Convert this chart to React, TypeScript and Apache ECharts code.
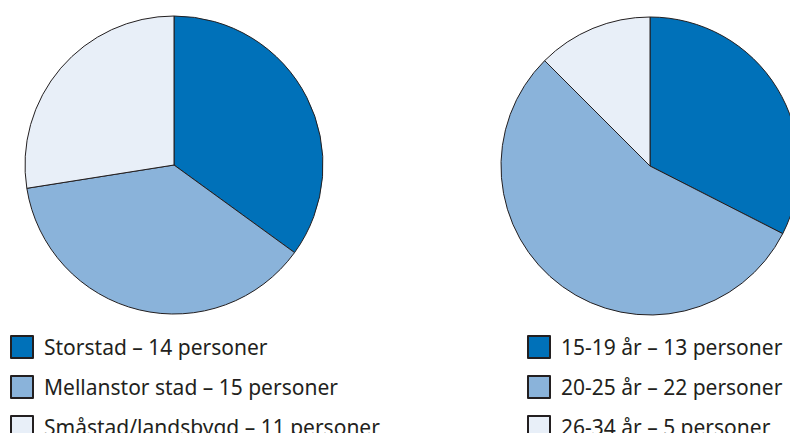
import React, { useEffect, useRef } from "react";
import * as echarts from "echarts";

const regionNames = ["Storstad", "Mellanstor stad", "Småstad/landsbygd"];
const regionValues = [14, 15, 11];
const ageNames = ["15-19 år", "20-25 år", "26-34 år"];
const ageValues = [13, 22, 5];
const sliceColors = ["#0071B9", "#8AB3DA", "#E8EFF8"];
const unitLabel = "personer";

export default function App() {
  const ref = useRef<HTMLDivElement>(null);
  useEffect(() => {
    if (!ref.current) return;
    const chart = echarts.init(ref.current, null, { renderer: "svg" });
    const lookup: Record<string, number> = {};
    regionNames.forEach((n, i) => (lookup[n] = regionValues[i]));
    ageNames.forEach((n, i) => (lookup[n] = ageValues[i]));
    const mk = (names: string[], values: number[]) =>
      names.map((n, i) => ({ name: n, value: values[i], itemStyle: { color: sliceColors[i] } }));
    const pieCommon = {
      type: "pie",
      radius: 149,
      startAngle: 90,
      clockwise: true,
      label: { show: false },
      labelLine: { show: false },
      emphasis: { disabled: true },
      itemStyle: { borderColor: "#231F20", borderWidth: 1 },
    };
    const legendCommon = {
      orient: "vertical",
      icon: "rect",
      itemWidth: 22,
      itemHeight: 22,
      itemGap: 16,
      padding: 0,
      selectedMode: false,
      formatter: (name: string) => `${name} – ${lookup[name]} ${unitLabel}`,
      textStyle: {
        fontFamily: "Noto Sans",
        fontSize: 21,
        lineHeight: 22,
        color: "#231F20",
        padding: [0, 0, 0, 6],
      },
    };
    chart.setOption({
      animation: false,
      backgroundColor: "#ffffff",
      legend: [
        { ...legendCommon, left: 10, top: 335, data: regionNames },
        { ...legendCommon, left: 527, top: 335, data: ageNames },
      ],
      series: [
        { ...pieCommon, center: [174, 165], data: mk(regionNames, regionValues) },
        { ...pieCommon, center: [650, 166], data: mk(ageNames, ageValues) },
      ],
    });
    return () => chart.dispose();
  }, []);
  return (
    <div
      ref={ref}
      style={{ position: "fixed", left: 0, top: 0, width: 790, height: 480 }}
    />
  );
}
